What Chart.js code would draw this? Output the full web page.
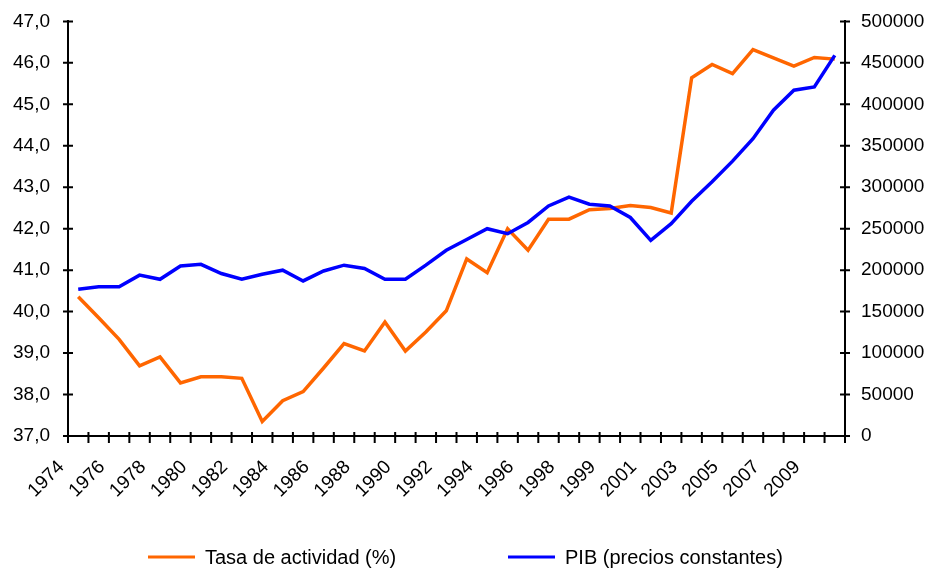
<!DOCTYPE html>
<html>
<head>
<meta charset="utf-8">
<script src="https://cdn.jsdelivr.net/npm/chart.js@4.4.1/dist/chart.umd.min.js"></script>
<style>
  html, body { margin: 0; padding: 0; background: #fff; }
</style>
</head>
<body>
<canvas id="chart" width="930" height="569"></canvas>
<script>
// --- Data ---
const years = [
  '1974', '1975', '1976', '1977', '1978', '1979', '1980', '1981', '1982', '1983',
  '1984', '1985', '1986', '1987', '1988', '1989', '1990', '1991', '1992', '1993',
  '1994', '1995', '1996', '1997', '1998', '1998', '1999', '2000', '2001', '2002',
  '2003', '2004', '2005', '2006', '2007', '2008', '2009', '2010'
];

// Tasa de actividad (%), left axis
const tasaActividad = [
  40.36, 39.85, 39.33, 38.69, 38.91, 38.28, 38.43, 38.43, 38.39, 37.35,
  37.85, 38.07, 38.64, 39.23, 39.05, 39.75, 39.05, 39.51, 40.02, 41.27,
  40.94, 42.00, 41.48, 42.23, 42.23, 42.46, 42.49, 42.56, 42.51, 42.38,
  45.64, 45.96, 45.74, 46.32, 46.12, 45.92, 46.13, 46.09
];

// PIB (precios constantes), right axis
const pib = [
  177000, 180000, 180000, 194000, 189000, 205000, 207000, 196000, 189000, 195000,
  200000, 187000, 199000, 206000, 202000, 189000, 189000, 206000, 224000, 237000,
  250000, 244000, 257500, 277500, 288000, 279500, 277500, 263500, 236000, 256000,
  283000, 306500, 331500, 358500, 393000, 417000, 421000, 459000
];

const seriesNames = ['Tasa de actividad (%)', 'PIB (precios constantes)'];
const seriesColors = ['#FF6600', '#0000FF'];

const FONT = '"Liberation Sans", Arial, sans-serif';

// Tick marks that cross the axis lines, Excel style
const crossTicks = {
  id: 'crossTicks',
  afterDraw(chart) {
    const { ctx, chartArea: a, scales } = chart;
    ctx.save();
    ctx.strokeStyle = '#000';
    ctx.lineWidth = 2;
    ctx.beginPath();
    const n = years.length;
    for (let k = 0; k <= n; k++) {
      const x = a.left + k * (a.right - a.left) / n;
      ctx.moveTo(x, a.bottom - 4);
      ctx.lineTo(x, a.bottom + 7);
    }
    scales.y.ticks.forEach(t => {
      const y = scales.y.getPixelForValue(t.value);
      ctx.moveTo(a.left - 5, y);
      ctx.lineTo(a.left + 5, y);
    });
    scales.y1.ticks.forEach(t => {
      const y = scales.y1.getPixelForValue(t.value);
      ctx.moveTo(a.right - 5, y);
      ctx.lineTo(a.right + 5, y);
    });
    ctx.stroke();
    ctx.restore();
  }
};

// Legend under the chart, line sample + label
const bottomLegend = {
  id: 'bottomLegend',
  afterDraw(chart) {
    const ctx = chart.ctx;
    const y = 557;
    const starts = [148, 508];
    ctx.save();
    ctx.font = '20px ' + FONT;
    ctx.textBaseline = 'middle';
    chart.data.datasets.forEach((ds, i) => {
      const x = starts[i];
      ctx.strokeStyle = ds.borderColor;
      ctx.lineWidth = 3;
      ctx.beginPath();
      ctx.moveTo(x, y);
      ctx.lineTo(x + 47, y);
      ctx.stroke();
      ctx.fillStyle = '#000';
      ctx.fillText(ds.label, x + 57, y + 1);
    });
    ctx.restore();
  }
};

const ctx = document.getElementById('chart').getContext('2d');
new Chart(ctx, {
  type: 'line',
  data: {
    labels: years,
    datasets: [
      {
        label: seriesNames[0],
        data: tasaActividad,
        yAxisID: 'y',
        borderColor: seriesColors[0],
        backgroundColor: seriesColors[0],
        borderWidth: 3.5,
        pointRadius: 0,
        tension: 0,
        order: 1
      },
      {
        label: seriesNames[1],
        data: pib,
        yAxisID: 'y1',
        borderColor: seriesColors[1],
        backgroundColor: seriesColors[1],
        borderWidth: 3.5,
        pointRadius: 0,
        tension: 0,
        order: 0
      }
    ]
  },
  options: {
    responsive: false,
    animation: false,
    layout: { padding: { top: 18, bottom: 0, left: 0, right: 0 } },
    plugins: {
      legend: { display: false },
      tooltip: { enabled: false }
    },
    scales: {
      x: {
        offset: true,
        grid: { display: false },
        border: { display: true, color: '#000', width: 2 },
        ticks: {
          autoSkip: false,
          minRotation: 45,
          maxRotation: 45,
          padding: 12,
          labelOffset: -17,
          color: '#000',
          font: { family: FONT, size: 19 },
          callback: (v, i) => (i % 2 === 0 ? years[i] : '')
        },
        afterFit: s => { s.height = 133; }
      },
      y: {
        position: 'left',
        min: 37,
        max: 47,
        grid: { display: false },
        border: { display: true, color: '#000', width: 2 },
        ticks: {
          stepSize: 1,
          padding: 10,
          color: '#000',
          font: { family: FONT, size: 19 },
          callback: v => v.toFixed(1).replace('.', ',')
        },
        afterFit: s => { s.width = 68; }
      },
      y1: {
        position: 'right',
        min: 0,
        max: 500000,
        grid: { display: false },
        border: { display: true, color: '#000', width: 2 },
        ticks: {
          stepSize: 50000,
          padding: 8,
          color: '#000',
          font: { family: FONT, size: 19 },
          callback: v => String(v)
        },
        afterFit: s => { s.width = 85; }
      }
    }
  },
  plugins: [crossTicks, bottomLegend]
});
</script>
</body>
</html>
